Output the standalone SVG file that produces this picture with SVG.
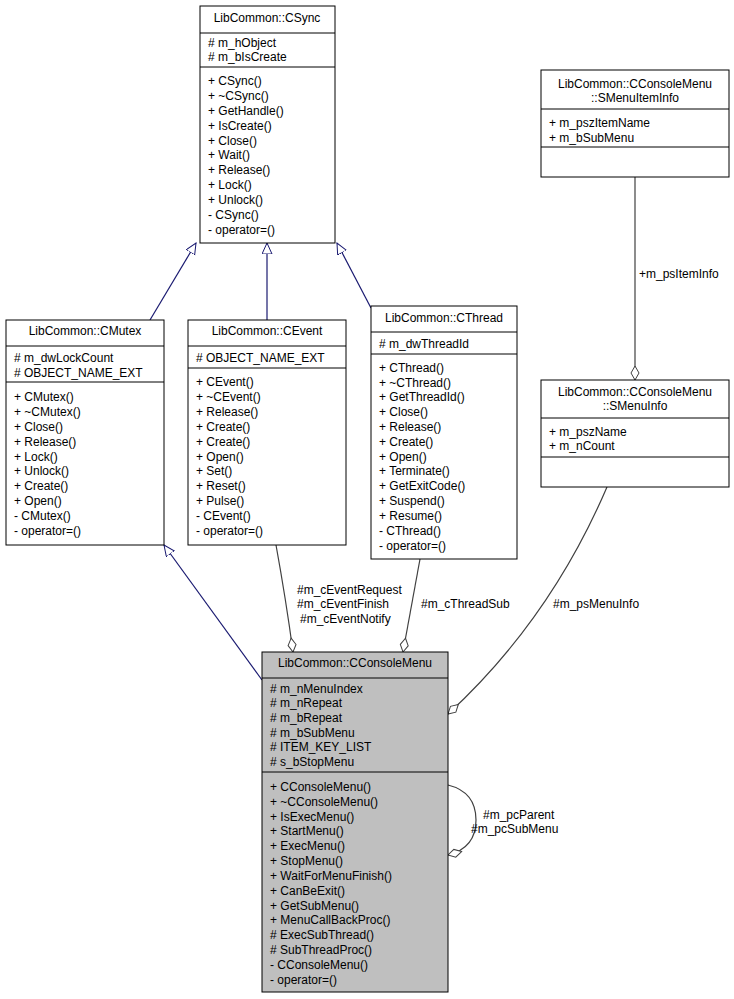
<svg xmlns="http://www.w3.org/2000/svg" width="734" height="999" viewBox="0 0 734 999">
<style>
text{font-family:"Liberation Sans",Arial,sans-serif;font-size:12px;fill:#000}
.b{fill:#fff;stroke:#000;stroke-width:1}
.g{fill:#bfbfbf;stroke:#000;stroke-width:1}
.s{stroke:#000;stroke-width:1}
.inh{fill:none;stroke:#191970;stroke-width:1.2}
.agg{fill:none;stroke:#404040;stroke-width:1.2}
.c{text-anchor:middle}
</style>
<defs>
<marker id="tri" markerWidth="12" markerHeight="12" refX="11" refY="5" orient="auto" markerUnits="userSpaceOnUse"><path d="M0,0 L11,5 L0,10 Z" fill="#fff" stroke="#191970"/></marker>
<marker id="dia" markerWidth="16" markerHeight="10" refX="15" refY="5" orient="auto" markerUnits="userSpaceOnUse"><path d="M1,5 L8,1 L15,5 L8,9 Z" fill="#fff" stroke="#404040"/></marker>
</defs>
<g id="connectors">
<path class="inh" d="M150,320 L196,243" marker-end="url(#tri)"/>
<path class="inh" d="M267,320 L267,243" marker-end="url(#tri)"/>
<path class="inh" d="M371,308 L337,243" marker-end="url(#tri)"/>
<path class="inh" d="M262,680 L164,545" marker-end="url(#tri)"/>
<path class="agg" d="M276,545 Q286,600 293,652" marker-end="url(#dia)"/>
<path class="agg" d="M420,559 L403,652" marker-end="url(#dia)"/>
<path class="agg" d="M607,487 Q550,620 448,714" marker-end="url(#dia)"/>
<path class="agg" d="M635,177 L635,380" marker-end="url(#dia)"/>
<path class="agg" d="M448,785 Q476,792 476,820 Q476,848 448,855" marker-end="url(#dia)"/>
<text x="297" y="594">#m_cEventRequest</text>
<text x="297" y="608">#m_cEventFinish</text>
<text x="300" y="623">#m_cEventNotify</text>
<text x="421" y="608">#m_cThreadSub</text>
<text x="553" y="608">#m_psMenuInfo</text>
<text x="639" y="278">+m_psItemInfo</text>
<text x="483" y="819">#m_pcParent</text>
<text x="471" y="833">#m_pcSubMenu</text>
</g>
<g id="CSync">
<rect class="b" x="200" y="6" width="135" height="237"/>
<line class="s" x1="200" y1="33" x2="335" y2="33"/><line class="s" x1="200" y1="67" x2="335" y2="67"/>
<text class="c" x="267" y="22">LibCommon::CSync</text>
<text x="208" y="47">#  m_hObject</text><text x="208" y="61">#  m_bIsCreate</text>
<text x="208" y="85">+ CSync()</text><text x="208" y="100">+ ~CSync()</text><text x="208" y="115">+ GetHandle()</text><text x="208" y="130">+ IsCreate()</text><text x="208" y="145">+ Close()</text><text x="208" y="159">+ Wait()</text><text x="208" y="174">+ Release()</text><text x="208" y="189">+ Lock()</text><text x="208" y="204">+ Unlock()</text><text x="208" y="219">- CSync()</text><text x="208" y="234">- operator=()</text>
</g>
<g id="CMutex">
<rect class="b" x="6" y="320" width="158" height="225"/>
<line class="s" x1="6" y1="346" x2="164" y2="346"/><line class="s" x1="6" y1="382" x2="164" y2="382"/>
<text class="c" x="85" y="335">LibCommon::CMutex</text>
<text x="14" y="362">#  m_dwLockCount</text><text x="14" y="377">#  OBJECT_NAME_EXT</text>
<text x="14" y="401">+ CMutex()</text><text x="14" y="416">+ ~CMutex()</text><text x="14" y="431">+ Close()</text><text x="14" y="446">+ Release()</text><text x="14" y="461">+ Lock()</text><text x="14" y="475">+ Unlock()</text><text x="14" y="490">+ Create()</text><text x="14" y="505">+ Open()</text><text x="14" y="520">- CMutex()</text><text x="14" y="535">- operator=()</text>
</g>
<g id="CEvent">
<rect class="b" x="188" y="320" width="158" height="225"/>
<line class="s" x1="188" y1="346" x2="346" y2="346"/><line class="s" x1="188" y1="368" x2="346" y2="368"/>
<text class="c" x="267" y="335">LibCommon::CEvent</text>
<text x="196" y="362">#  OBJECT_NAME_EXT</text>
<text x="196" y="386">+ CEvent()</text><text x="196" y="401">+ ~CEvent()</text><text x="196" y="416">+ Release()</text><text x="196" y="431">+ Create()</text><text x="196" y="446">+ Create()</text><text x="196" y="461">+ Open()</text><text x="196" y="475">+ Set()</text><text x="196" y="490">+ Reset()</text><text x="196" y="505">+ Pulse()</text><text x="196" y="520">- CEvent()</text><text x="196" y="535">- operator=()</text>
</g>
<g id="CThread">
<rect class="b" x="371" y="306" width="146" height="253"/>
<line class="s" x1="371" y1="332" x2="517" y2="332"/><line class="s" x1="371" y1="354" x2="517" y2="354"/>
<text class="c" x="444" y="322">LibCommon::CThread</text>
<text x="379" y="348">#  m_dwThreadId</text>
<text x="379" y="372">+ CThread()</text><text x="379" y="387">+ ~CThread()</text><text x="379" y="401">+ GetThreadId()</text><text x="379" y="416">+ Close()</text><text x="379" y="431">+ Release()</text><text x="379" y="446">+ Create()</text><text x="379" y="461">+ Open()</text><text x="379" y="475">+ Terminate()</text><text x="379" y="490">+ GetExitCode()</text><text x="379" y="505">+ Suspend()</text><text x="379" y="520">+ Resume()</text><text x="379" y="535">- CThread()</text><text x="379" y="550">- operator=()</text>
</g>
<g id="SMenuItemInfo">
<rect class="b" x="541" y="70" width="188" height="107"/>
<line class="s" x1="541" y1="109" x2="729" y2="109"/><line class="s" x1="541" y1="147" x2="729" y2="147"/>
<text class="c" x="635" y="88">LibCommon::CConsoleMenu</text><text class="c" x="635" y="102">::SMenuItemInfo</text>
<text x="549" y="127">+ m_pszItemName</text><text x="549" y="142">+ m_bSubMenu</text>
</g>
<g id="SMenuInfo">
<rect class="b" x="541" y="380" width="188" height="107"/>
<line class="s" x1="541" y1="418" x2="729" y2="418"/><line class="s" x1="541" y1="457" x2="729" y2="457"/>
<text class="c" x="635" y="396">LibCommon::CConsoleMenu</text><text class="c" x="635" y="410">::SMenuInfo</text>
<text x="549" y="436">+ m_pszName</text><text x="549" y="450">+ m_nCount</text>
</g>
<g id="CConsoleMenu">
<rect class="g" x="262" y="652" width="186" height="340"/>
<line class="s" x1="262" y1="678" x2="448" y2="678"/><line class="s" x1="262" y1="772" x2="448" y2="772"/>
<text class="c" x="355" y="667">LibCommon::CConsoleMenu</text>
<text x="270" y="693">#  m_nMenuIndex</text><text x="270" y="707">#  m_nRepeat</text><text x="270" y="722">#  m_bRepeat</text><text x="270" y="737">#  m_bSubMenu</text><text x="270" y="751">#  ITEM_KEY_LIST</text><text x="270" y="766">#  s_bStopMenu</text>
<text x="270" y="791">+ CConsoleMenu()</text><text x="270" y="806">+ ~CConsoleMenu()</text><text x="270" y="821">+ IsExecMenu()</text><text x="270" y="835">+ StartMenu()</text><text x="270" y="850">+ ExecMenu()</text><text x="270" y="865">+ StopMenu()</text><text x="270" y="880">+ WaitForMenuFinish()</text><text x="270" y="895">+ CanBeExit()</text><text x="270" y="910">+ GetSubMenu()</text><text x="270" y="924">+ MenuCallBackProc()</text><text x="270" y="939"># ExecSubThread()</text><text x="270" y="954"># SubThreadProc()</text><text x="270" y="969">- CConsoleMenu()</text><text x="270" y="984">- operator=()</text>
</g>
</svg>
